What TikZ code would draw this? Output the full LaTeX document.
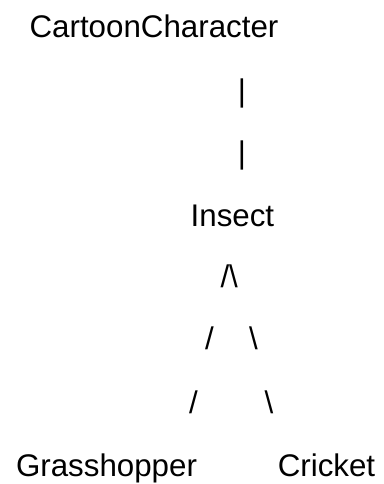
\documentclass[tikz,border=0pt]{standalone}
\usepackage{fontspec}
\setmainfont{Liberation Sans}
\begin{document}
\begin{tikzpicture}[x=1pt, y=-1pt, main/.style = {anchor=base, inner sep=0pt, font=\fontsize{31.3}{36}\selectfont}]
            \useasboundingbox (0,0) rectangle (383,484);
            \node[main] (cc) at (154,37.5) {CartoonCharacter};
            \node[main] (bar1) at (242,101.4) {|};
            \node[main] (bar2) at (242,163.6) {|};
            \node[main] (ins) at (232.4,226.7) {Insect};
            \node[main] (top) at (229.2,287.6) {/\textbackslash};
            \node[main] (l1) at (209.5,349.6) {/};
            \node[main] (r1) at (253.4,349.6) {\textbackslash};
            \node[main] (l2) at (193.5,413.6) {/};
            \node[main] (r2) at (269,413.6) {\textbackslash};
            \node[main] (gh) at (106.5,476) {Grasshopper};
            \node[main] (cr) at (326.5,476) {Cricket};
            \end{tikzpicture}
\end{document}
